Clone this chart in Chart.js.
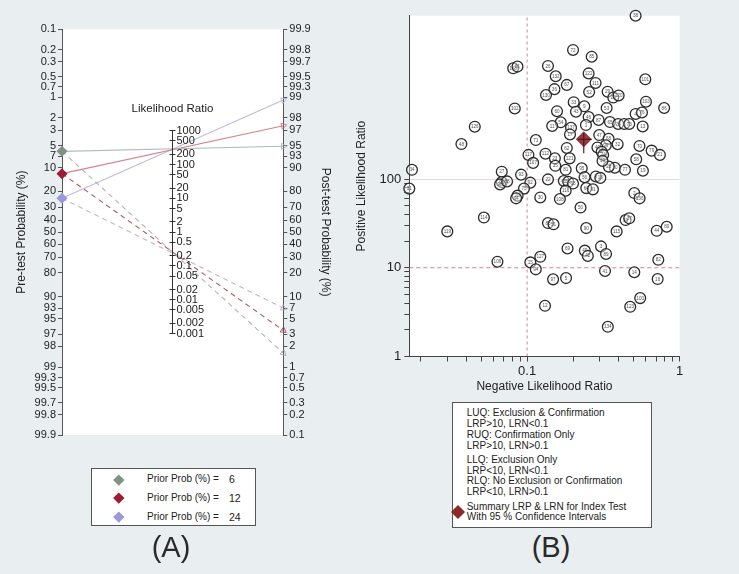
<!DOCTYPE html>
<html><head><meta charset="utf-8">
<script src="https://cdn.jsdelivr.net/npm/chart.js@4/dist/chart.umd.min.js"></script>
<style>
html,body{margin:0;padding:0;background:#e9eef1;}
body{width:739px;height:574px;position:relative;overflow:hidden;font-family:"Liberation Sans",Arial,Helvetica,sans-serif;color:#222;}
.abs{position:absolute;}
canvas{display:block;}
.box{position:absolute;background:#fff;border:1px solid #555;box-sizing:border-box;}
.t{position:absolute;white-space:nowrap;}
.dia{position:absolute;transform:rotate(45deg);}
.cap{position:absolute;font-size:29px;font-weight:300;color:#2a2a2a;transform:translateX(-50%);}
</style></head><body>
<div class="abs" style="left:0;top:0;width:370px;height:470px"><canvas id="cA" width="370" height="470"></canvas></div>
<div class="abs" style="left:130px;top:0;width:120px;height:470px"><canvas id="cM" width="120" height="470"></canvas></div>
<div class="abs" style="left:340px;top:0;width:399px;height:400px"><canvas id="cB" width="399" height="400"></canvas></div>

<div class="t" style="left:172.5px;top:102px;font-size:11.5px;transform:translateX(-50%)">Likelihood Ratio</div>

<div class="box" style="left:91px;top:468px;width:165px;height:58px"></div>
<div id="legA"></div>

<div class="box" style="left:452px;top:402px;width:200px;height:126px"></div>
<div id="legB"></div>

<div class="cap" style="left:171px;top:531px">(A)</div>
<div class="cap" style="left:551px;top:531px">(B)</div>

<script>
// ---------------- DATA ----------------
// Panel A: Fagan nomogram
const priorProbs = [6, 12, 24];
const postProbPositive = [94.9, 97.4, 98.9];
const postProbNegative = [1.6, 3.4, 7.0];
const priorColors = ['#7f9383', '#9e1b32', '#9a98d8'];
const posLineColors = ['rgba(165,175,178,0.85)', 'rgba(205,110,120,0.85)', 'rgba(185,180,215,0.9)'];
const negLineColors = ['rgba(170,165,165,0.85)', 'rgba(165,60,75,0.85)', 'rgba(185,170,190,0.85)'];
const preTestTicks = [0.1,0.2,0.3,0.5,0.7,1,2,3,5,7,10,20,30,40,50,60,70,80,90,93,95,97,98,99,99.3,99.5,99.7,99.8,99.9];
const postTestTicks = [99.9,99.8,99.7,99.5,99.3,99,98,97,95,93,90,80,70,60,50,40,30,20,10,7,5,3,2,1,0.7,0.5,0.3,0.2,0.1];
const lrTicks = [1000,500,200,100,50,20,10,5,2,1,0.5,0.2,0.1,0.05,0.02,0.01,0.005,0.002,0.001];

// Panel B: likelihood ratio scatter
const studyIds = [38,72,85,118,61,26,132,122,111,67,
  101,36,130,52,29,25,120,102,33,9,
  43,53,60,103,86,4,76,46,87,65,
  24,6,73,13,54,11,137,1,126,17,
  48,71,47,68,99,32,70,79,21,62,
  40,57,74,117,107,112,23,35,121,58,
  19,10,77,28,39,34,27,81,95,93,
  45,55,63,56,8,18,22,92,96,98,
  88,75,66,91,116,2,136,20,64,30,
  108,31,50,114,83,51,90,115,59,37,
  44,80,119,3,89,69,49,42,127,106,
  15,94,41,14,82,97,5,16,100,123,
  12,134];
const negativeLR = [0.514,0.200,0.265,0.081,0.0865,0.137,0.154,0.253,0.281,0.182,
  0.595,0.151,0.133,0.255,0.337,0.367,0.398,0.083,0.202,0.237,
  0.209,0.332,0.157,0.601,0.791,0.514,0.566,0.253,0.294,0.349,
  0.395,0.433,0.467,0.572,0.166,0.146,0.194,0.243,0.0454,0.191,
  0.0371,0.114,0.297,0.342,0.328,0.392,0.545,0.655,0.742,0.182,
  0.289,0.308,0.315,0.102,0.1095,0.132,0.152,0.153,0.190,0.519,
  0.574,0.376,0.438,0.343,0.312,0.0176,0.0682,0.179,0.228,0.0913,
  0.174,0.186,0.200,0.238,0.282,0.302,0.137,0.105,0.0682,0.0665,
  0.0739,0.0954,0.244,0.270,0.179,0.504,0.546,0.0866,0.0847,0.122,
  0.164,0.0169,0.224,0.0521,0.137,0.149,0.244,0.386,0.442,0.467,
  0.707,0.822,0.0300,0.305,0.329,0.184,0.239,0.250,0.122,0.0639,
  0.105,0.114,0.324,0.504,0.724,0.148,0.180,0.717,0.551,0.474,
  0.131,0.338];
const positiveLR = [6930,2850,2390,1770,1850,1880,1440,1550,1210,1150,
  1330,1030,885,957,964,829,874,624,734,660,
  574,632,581,744,632,541,562,500,463,439,
  417,417,417,391,436,396,378,406,389,318,
  248,275,313,284,240,247,236,209,187,224,
  227,203,187,187,152,193,171,141,171,167,
  124,134,127,138,160,127,121,127,132,112,
  95,93,89,105,107,103,99,91,92.5,87,
  94,78,79,76.5,74,69.5,60.6,65,60.6,62,
  59.5,78,47.7,36.8,31.9,30.9,28,25.7,34.5,36.1,
  26.1,29,25.7,17.4,14.3,16.5,15.6,13.6,13.3,11.7,
  11.5,9.6,9.2,8.9,12.3,7.4,7.65,7.46,4.55,3.63,
  3.73,2.16];
const summaryLRN = 0.235, summaryLRP = 280;
const summaryLRNci = [0.216, 0.265];
const summaryLRPci = [195, 328];
const lrpThreshold = 10, lrnThreshold = 0.1;
const lrpTicks = [1,2,3,4,5,6,7,8,9,10,20,30,40,50,60,70,80,90,100];
const lrpLabels = [1,10,100];
const lrnTicks = [0.02,0.03,0.04,0.05,0.06,0.07,0.08,0.09,0.1,0.2,0.3,0.4,0.5,0.6,0.7,0.8,0.9,1];
const lrnLabels = [0.1,1];
const lrnRange = [0.0169, 1], lrpRange = [1, 6930];

const legendBLines = [
  ['LUQ: Exclusion & Confirmation', 413.3], ['LRP>10, LRN<0.1', 424], ['RUQ: Confirmation Only', 434.6], ['LRP>10, LRN>0.1', 445.6],
  ['LLQ: Exclusion Only', 459.8], ['LRP<10, LRN<0.1', 470.5], ['RLQ: No Exclusion or Confirmation', 481.2], ['LRP<10, LRN>0.1', 492],
  ['Summary LRP & LRN for Index Test', 506.7], ['With 95 % Confidence Intervals', 517.3]
];

// ---------------- SETUP ----------------
const FONT = '"Liberation Sans", Arial, Helvetica, sans-serif';
Chart.defaults.font.family = FONT;
Chart.defaults.color = '#222';
Chart.defaults.animation = false;

class LogitScale extends Chart.LinearScale {
  _lg(v){ return Math.log(v / (100 - v)); }
  getPixelForValue(value){
    const l0 = this._lg(this.min), l1 = this._lg(this.max);
    return this.getPixelForDecimal((this._lg(value) - l0) / (l1 - l0));
  }
  getValueForPixel(pixel){
    const l0 = this._lg(this.min), l1 = this._lg(this.max);
    const l = l0 + this.getDecimalForPixel(pixel) * (l1 - l0);
    return 100 / (1 + Math.exp(-l));
  }
}
LogitScale.id = 'logit';
LogitScale.defaults = {};
Chart.register(LogitScale);

const whiteArea = {
  id: 'whiteArea',
  beforeDraw(chart){
    const {ctx, chartArea: a} = chart;
    ctx.save(); ctx.fillStyle = '#ffffff';
    ctx.fillRect(a.left, a.top, a.right - a.left, a.bottom - a.top);
    ctx.restore();
  }
};

// ---------------- PANEL A ----------------
function arrowRotation(c){
  const d = c.dataset.data, xs = c.chart.scales.x, ys = c.chart.scales.yR;
  const x0 = xs.getPixelForValue(d[0].x), y0 = ys.getPixelForValue(d[0].y);
  const x1 = xs.getPixelForValue(d[1].x), y1 = ys.getPixelForValue(d[1].y);
  return Math.atan2(y1 - y0, x1 - x0) * 180 / Math.PI + 90;
}
const aDatasets = [];
priorProbs.forEach((p, i) => {
  aDatasets.push({
    type: 'line', yAxisID: 'yR', xAxisID: 'x',
    data: [{x: 0, y: 100 - p}, {x: 1, y: postProbPositive[i]}],
    borderColor: posLineColors[i], borderWidth: 1.1,
    pointRadius: [0, 3.5], pointStyle: 'triangle', pointRotation: arrowRotation,
    pointBorderColor: posLineColors[i], pointBackgroundColor: 'rgba(0,0,0,0)', pointBorderWidth: 1,
    clip: false, order: 5
  });
  aDatasets.push({
    type: 'line', yAxisID: 'yR', xAxisID: 'x',
    data: [{x: 0, y: 100 - p}, {x: 1, y: postProbNegative[i]}],
    borderColor: negLineColors[i], borderWidth: 1.1, borderDash: [5, 4],
    pointRadius: [0, 3.5], pointStyle: 'triangle', pointRotation: arrowRotation,
    pointBorderColor: negLineColors[i], pointBackgroundColor: 'rgba(0,0,0,0)', pointBorderWidth: 1,
    clip: false, order: 5
  });
});
aDatasets.push({
  type: 'scatter', yAxisID: 'yL', xAxisID: 'x',
  data: priorProbs.map(p => ({x: 0, y: p})),
  pointStyle: 'rectRot', pointRadius: 5.5,
  backgroundColor: priorColors, borderColor: priorColors, borderWidth: 0,
  clip: false, order: 0
});

const tickFontA = {size: 11, family: FONT};
new Chart(document.getElementById('cA'), {
  data: {datasets: aDatasets},
  plugins: [whiteArea],
  options: {
    responsive: false, animation: false,
    layout: {padding: {left: 10, right: 33.7, top: 29.3, bottom: 35}},
    plugins: {legend: {display: false}, tooltip: {enabled: false}},
    scales: {
      x: {type: 'linear', min: 0, max: 1, display: false},
      yL: {
        type: 'logit', position: 'left', reverse: true, min: 0.1, max: 99.9, bounds: 'data',
        afterBuildTicks: s => { s.ticks = preTestTicks.map(v => ({value: v})); },
        afterFit: s => { s.width = 52; },
        ticks: {autoSkip: false, callback: v => String(v), font: tickFontA, color: '#222', padding: 2},
        grid: {drawOnChartArea: false, tickLength: 4, tickColor: '#555', color: '#555'},
        border: {color: '#555', width: 1},
        title: {display: true, text: 'Pre-test Probability (%)', font: {size: 12, family: FONT}, color: '#222', padding: {top: 4, bottom: 4}}
      },
      yR: {
        type: 'logit', position: 'right', min: 0.1, max: 99.9, bounds: 'data',
        afterBuildTicks: s => { s.ticks = postTestTicks.map(v => ({value: v})); },
        afterFit: s => { s.width = 53; },
        ticks: {autoSkip: false, callback: v => String(v), font: tickFontA, color: '#222', padding: 2},
        grid: {drawOnChartArea: false, tickLength: 4, tickColor: '#555', color: '#555'},
        border: {color: '#555', width: 1},
        title: {display: true, text: 'Post-test Probability (%)', font: {size: 12, family: FONT}, color: '#222', padding: {top: 4, bottom: 4}}
      }
    }
  }
});

// middle likelihood-ratio axis (line limited to the labelled LR range)
new Chart(document.getElementById('cM'), {
  data: {datasets: [{
    type: 'line', xAxisID: 'x', yAxisID: 'yM',
    data: [{x: 1, y: lrTicks[0]}, {x: 1, y: lrTicks[lrTicks.length - 1]}],
    borderColor: '#333', borderWidth: 1, pointRadius: 0, clip: false
  }]},
  options: {
    responsive: false, animation: false,
    layout: {padding: {left: 39.5, right: 17.5, top: 29.3, bottom: 35}},
    plugins: {legend: {display: false}, tooltip: {enabled: false}},
    scales: {
      x: {type: 'linear', min: 0, max: 1, display: false},
      yM: {
        type: 'logarithmic', position: 'right', min: (0.001/0.999)**2, max: (0.999/0.001)**2, bounds: 'data',
        afterBuildTicks: s => { s.ticks = lrTicks.map(v => ({value: v})); },
        afterFit: s => { s.width = 60; },
        ticks: {autoSkip: false, callback: v => String(v), font: tickFontA, color: '#222', padding: 1},
        grid: {drawOnChartArea: true, tickLength: 3, color: '#333', tickColor: '#333', lineWidth: 1},
        border: {display: false}
      }
    }
  }
});

// legend A
(function(){
  const rows = [479.3, 497.7, 516.7];
  let h = '';
  priorProbs.forEach((p, i) => {
    const y = rows[i];
    h += `<div class="dia" style="left:${118.3-3.8}px;top:${y-3.8}px;width:7.6px;height:7.6px;background:${priorColors[i]}"></div>`;
    h += `<div class="t" style="left:147px;top:${y-7}px;font-size:10px;line-height:14px">Prior Prob (%) =</div>`;
    h += `<div class="t" style="left:229px;top:${y-7}px;font-size:10.5px;line-height:14px">${p}</div>`;
  });
  document.getElementById('legA').innerHTML = h;
})();

// ---------------- PANEL B ----------------
const pointLabels = {
  id: 'pointLabels',
  afterDatasetDraw(chart, args){
    if (args.index !== 2) return;
    const ctx = chart.ctx;
    ctx.save();
    ctx.font = '4.6px ' + FONT;
    ctx.fillStyle = '#555';
    ctx.textAlign = 'center'; ctx.textBaseline = 'middle';
    args.meta.data.forEach((el, i) => { ctx.fillText(String(studyIds[i]), el.x, el.y + 0.3); });
    ctx.restore();
  }
};
const refColor = 'rgba(195,120,130,0.9)';
const tickFontB = {size: 13, family: FONT};
new Chart(document.getElementById('cB'), {
  data: {datasets: [
    {type: 'line', data: [{x: lrnThreshold, y: lrpRange[0]}, {x: lrnThreshold, y: lrpRange[1]}],
      borderColor: refColor, borderWidth: 1, borderDash: [3, 3], pointRadius: 0, order: 10},
    {type: 'line', data: [{x: lrnRange[0], y: lrpThreshold}, {x: lrnRange[1], y: lrpThreshold}],
      borderColor: refColor, borderWidth: 1, borderDash: [4, 3], pointRadius: 0, order: 10},
    {type: 'scatter', data: negativeLR.map((x, i) => ({x: x, y: positiveLR[i]})),
      pointStyle: 'circle', pointRadius: 5.4, borderColor: '#2b2b2b', borderWidth: 1.3,
      backgroundColor: 'rgba(250,250,250,0.45)', clip: false, order: 5},
    {type: 'scatter', data: [{x: summaryLRN, y: summaryLRP}], pointStyle: 'rectRot', pointRadius: 8,
      backgroundColor: 'rgba(125,25,30,0.85)', borderWidth: 0, order: 1},
    {type: 'line', data: [{x: summaryLRN, y: summaryLRPci[0]}, {x: summaryLRN, y: summaryLRPci[1]}],
      borderColor: 'rgba(90,15,20,0.9)', borderWidth: 1.3, pointRadius: 0, order: 0},
    {type: 'line', data: [{x: summaryLRNci[0], y: summaryLRP}, {x: summaryLRNci[1], y: summaryLRP}],
      borderColor: 'rgba(90,15,20,0.9)', borderWidth: 1.3, pointRadius: 0, order: 0}
  ]},
  plugins: [whiteArea, pointLabels],
  options: {
    responsive: false, animation: false,
    layout: {padding: {left: 10.8, right: 59.3, top: 15.7, bottom: 2.1}},
    plugins: {legend: {display: false}, tooltip: {enabled: false}},
    scales: {
      x: {
        type: 'logarithmic', position: 'bottom', min: lrnRange[0], max: lrnRange[1], bounds: 'data',
        afterBuildTicks: s => { s.ticks = lrnTicks.map(v => ({value: v})); },
        afterFit: s => { s.height = 41.4; },
        ticks: {autoSkip: false, maxRotation: 0, callback: v => lrnLabels.includes(v) ? String(v) : '', font: tickFontB, color: '#222', padding: 2},
        grid: {drawOnChartArea: false, tickLength: 5, tickColor: '#444', color: '#444'},
        border: {color: '#444', width: 1},
        title: {display: true, text: 'Negative Likelihood Ratio', font: {size: 12, family: FONT}, color: '#222', padding: {top: 4, bottom: 4}}
      },
      y: {
        type: 'logarithmic', position: 'left', min: lrpRange[0], max: lrpRange[1], bounds: 'data',
        afterBuildTicks: s => { s.ticks = lrpTicks.map(v => ({value: v})); },
        afterFit: s => { s.width = 58.5; },
        ticks: {autoSkip: false, callback: v => lrpLabels.includes(v) ? String(v) : '', font: tickFontB, color: '#222', padding: 3},
        grid: {drawOnChartArea: true, tickLength: 5, tickColor: '#444',
          color: c => (c.tick && c.tick.value === 100) ? 'rgba(230,205,205,0.8)' : 'rgba(0,0,0,0)'},
        border: {color: '#444', width: 1},
        title: {display: true, text: 'Positive Likelihood Ratio', font: {size: 12, family: FONT}, color: '#222', padding: {top: 4, bottom: 4}}
      }
    }
  }
});

// legend B
(function(){
  const host = document.getElementById('legB');
  legendBLines.forEach(([txt, y]) => {
    const d = document.createElement('div');
    d.className = 't';
    d.style.cssText = `left:466.7px;top:${y-6}px;font-size:10px;line-height:12px`;
    d.textContent = txt;
    host.appendChild(d);
  });
  host.insertAdjacentHTML('beforeend',
    '<div class="dia" style="left:452.7px;top:506.7px;width:10px;height:10px;background:#8b2a2a"></div>');
})();
</script>
</body></html>
